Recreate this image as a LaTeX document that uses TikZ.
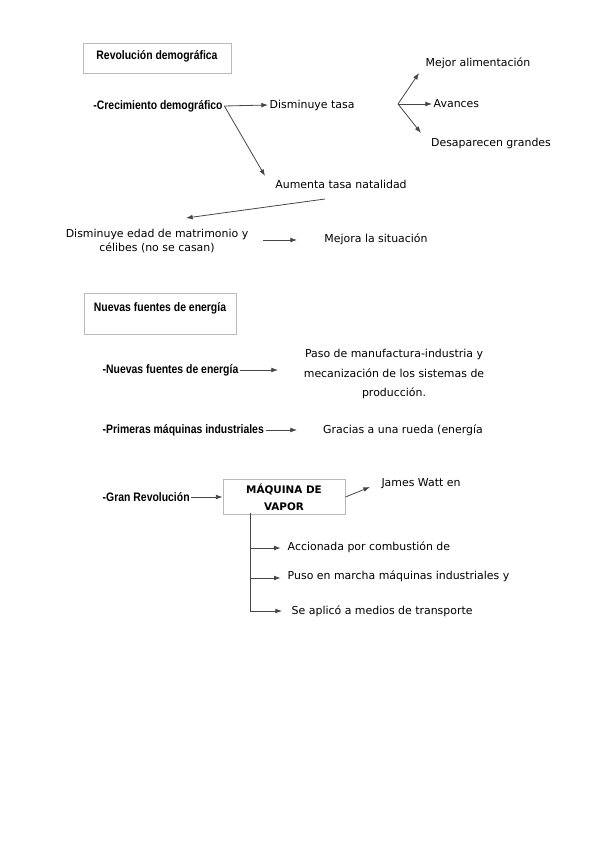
\documentclass[tikz,border=0pt]{standalone}
\usepackage{fontspec}
\setmainfont{DejaVu Sans}
\newfontfamily\arialfont{Liberation Sans}[FakeStretch=0.85]
\usetikzlibrary{arrows.meta}

\tikzset{every picture/.style={line width=0.6pt}}
\tikzset{
  txt/.style={font=\fontsize{8.2}{10}\selectfont, inner sep=1pt},
  head/.style={font=\arialfont\bfseries\fontsize{9.2}{11}\selectfont, inner sep=1pt},
  frame/.style={draw={rgb, 255:red, 185; green, 185; blue, 185 }, line width=0.7pt},
  link/.style={draw={rgb, 255:red, 70; green, 70; blue, 70 }},
  arr/.style={link, -{Latex[length=5pt,width=3.6pt]}},
}

\begin{document}
\begin{tikzpicture}[x=0.75pt,y=0.75pt,yscale=-1,xscale=1]
\useasboundingbox (0,0) rectangle (599,848);

%Rect revolucion
\draw [frame] (83,43) rectangle (231,73) ;
\node [head] (revol) at (157,56) {Revolución demográfica};

% Text Nodes
\node [head] (crec) at (158,106) {-Crecimiento demográfico};
\node [txt, anchor=west] (dtasa) at (268,105) {Disminuye tasa};
\node [txt] (alim) at (478,63) {Mejor alimentación};
\node [txt, anchor=west] (avan) at (432,104) {Avances};
\node [txt] (desap) at (491,143) {Desaparecen grandes};
\node [txt] (aument) at (341,184) {Aumenta tasa natalidad};
\node [txt, align=center] (edad) at (157,241) {Disminuye edad de matrimonio y\\célibes (no se casan)};
\node [txt] (mejora) at (376,239) {Mejora la situación};

% Connector points
\coordinate (fork) at (398,104);
\coordinate (aum0) at (265,176);
\coordinate (edad0) at (325,199);
\coordinate (edad1) at (186,218);
\coordinate (mej0) at (263,240);
\coordinate (mej1) at (297,240);

%Straight Lines
\draw [arr] (crec.east) -- (dtasa.west);
\draw [arr] (crec.east) -- (aum0);
\draw [arr] (fork) -- (419,73);
\draw [arr] (fork) -- (avan.west);
\draw [arr] (fork) -- (421,133);
\draw [arr] (edad0) -- (edad1);
\draw [arr] (mej0) -- (mej1);

%Rect nuevas fuentes
\draw [frame] (84,293) rectangle (236,334) ;
\node [head] (nuevas) at (160,308) {Nuevas fuentes de energía};

% Text Nodes
\node [head, anchor=west] (fuentes) at (101,370) {-Nuevas fuentes de energía};
\node [txt, align=center, font=\fontsize{8.2}{14.5}\selectfont] (paso) at (394,374) {Paso de manufactura-industria y\\mecanización de los sistemas de\\producción.};
\node [head, anchor=west] (prim) at (101,430) {-Primeras máquinas industriales};
\node [txt] (rueda) at (403,430) {Gracias a una rueda (energía};

%Straight Lines
\draw [arr] (fuentes.east) -- (278,370);
\draw [arr] (prim.east) -- (297,430);

% Text Nodes
\node [head, anchor=west] (gran) at (101,497) {-Gran Revolución};
\node [frame, align=center, font=\bfseries\fontsize{7.8}{12.5}\selectfont, minimum width=91.5pt, minimum height=24pt] (vapor) at (284,497) {MÁQUINA DE\\VAPOR};
\node [txt] (watt) at (421,484) {James Watt en};
\node [txt, anchor=west] (accion) at (286,547) {Accionada por combustión de};
\node [txt, anchor=west] (puso) at (286,576) {Puso en marcha máquinas industriales y};
\node [txt, anchor=west] (aplico) at (290,611) {Se aplicó a medios de transporte};

% Connector points
\coordinate (trunk) at (250,513);
\coordinate (trunk1) at (250,548);
\coordinate (trunk2) at (250,578);
\coordinate (trunk3) at (250,611);

%Straight Lines
\draw [arr] (gran.east) -- (vapor.west);
\draw [arr] (vapor.east) -- (370,487);
\draw [link] (trunk) -- (trunk3);
\draw [arr, shorten >=4pt] (trunk1) -- (trunk1 -| accion.west);
\draw [arr, shorten >=4pt] (trunk2) -- (trunk2 -| puso.west);
\draw [arr, shorten >=6pt] (trunk3) -- (trunk3 -| aplico.west);

\end{tikzpicture}
\end{document}
